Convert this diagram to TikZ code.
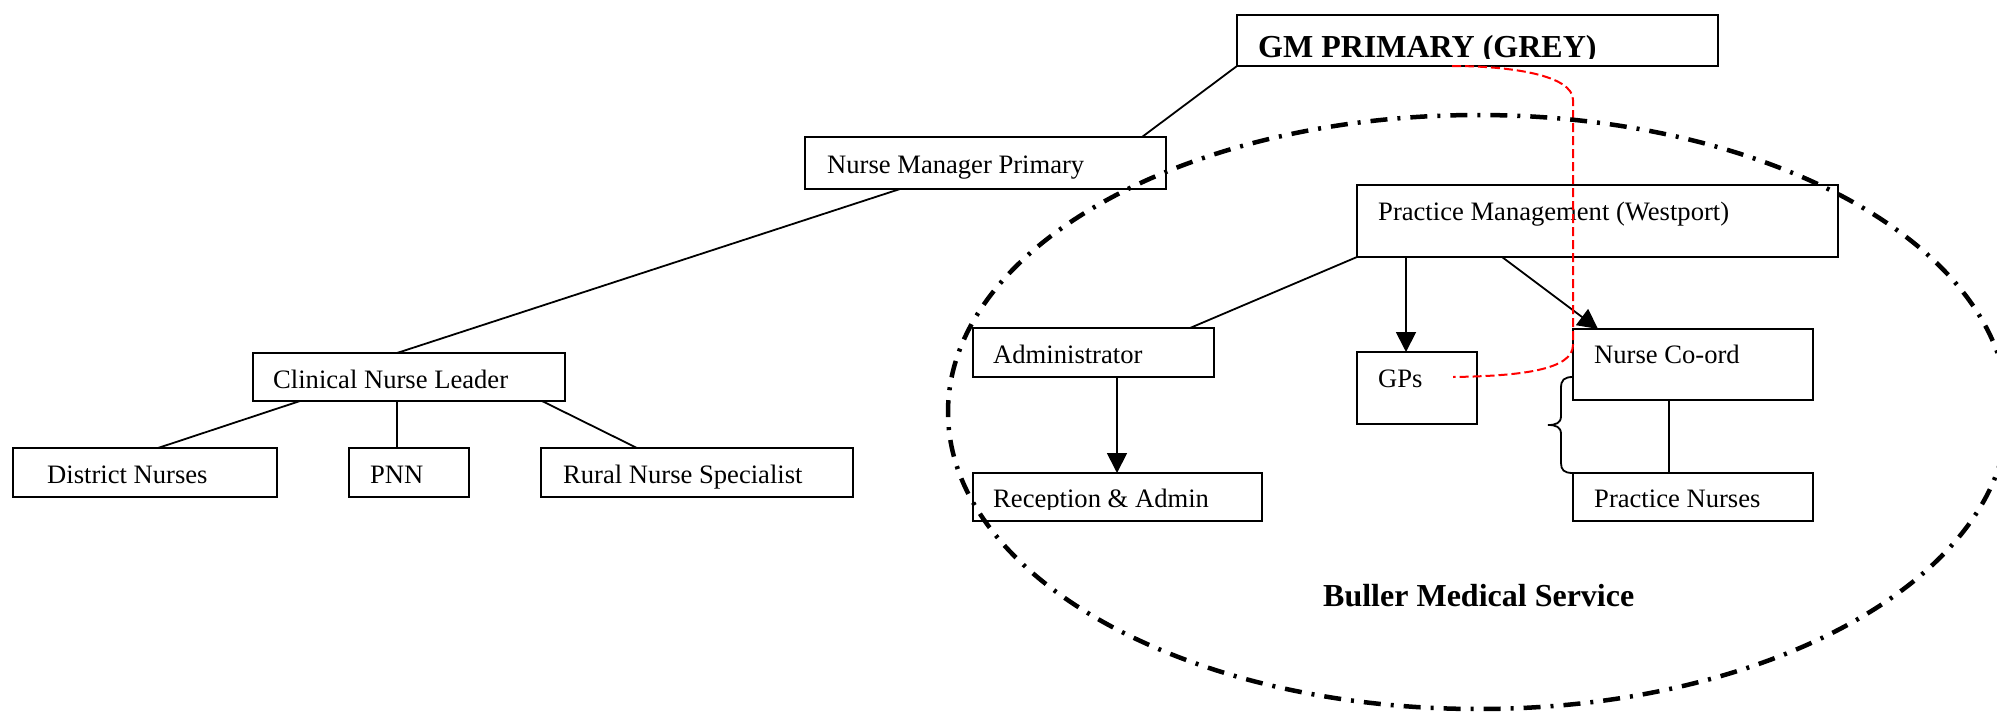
\documentclass[tikz,border=0pt]{standalone}
\usepackage{fontspec}
\setmainfont{Liberation Serif}
\usetikzlibrary{arrows.meta}
\begin{document}
\begin{tikzpicture}[x=1pt,y=-1pt,
  box/.style={draw, line width=2pt, inner sep=0pt, outer sep=0pt, anchor=north west},
  lbl/.style={inner sep=0pt, anchor=base west, font=\fontsize{26.6}{30}\selectfont},
  boldlbl/.style={inner sep=0pt, anchor=base west, font=\fontsize{32}{36}\selectfont\bfseries},
  conn/.style={line width=1.8pt},
  arr/.style={line width=1.8pt, -{Triangle[length=20pt,width=20pt]}},
  group/.style={line width=4.5pt, dash pattern=on 17pt off 10pt on 3pt off 10pt},
  link/.style={red, line width=2pt, dash pattern=on 9pt off 4pt}
]
\clip (0,0) rectangle (1997,712);

% boxes
\node[box, minimum width=481pt, minimum height=51pt] (gm) at (1237,15) {};
\node[box, minimum width=361pt, minimum height=52pt] (nmp) at (805,137) {};
\node[box, minimum width=312pt, minimum height=48pt] (cnl) at (253,353) {};
\node[box, minimum width=264pt, minimum height=49pt] (dn) at (13,448) {};
\node[box, minimum width=120pt, minimum height=49pt] (pnn) at (349,448) {};
\node[box, minimum width=312pt, minimum height=49pt] (rns) at (541,448) {};
\node[box, minimum width=481pt, minimum height=72pt] (pm) at (1357,185) {};
\node[box, minimum width=241pt, minimum height=49pt] (adm) at (973,328) {};
\node[box, minimum width=289pt, minimum height=48pt] (ra) at (973,473) {};
\node[box, minimum width=120pt, minimum height=72pt] (gps) at (1357,352) {};
\node[box, minimum width=240pt, minimum height=71pt] (nc) at (1573,329) {};
\node[box, minimum width=240pt, minimum height=48pt] (pn) at (1573,473) {};

% labels
\begin{scope}
  \clip (1237,15) rectangle (1718,58);
  \node[boldlbl] (gmt) at ([xshift=21pt,yshift=-42pt]gm.north west) {GM PRIMARY (GREY)};
\end{scope}
\node[lbl] (nmpt) at ([xshift=22pt,yshift=-36pt]nmp.north west) {Nurse Manager Primary};
\node[lbl] (cnlt) at ([xshift=20pt,yshift=-35pt]cnl.north west) {Clinical Nurse Leader};
\node[lbl] (dnt) at ([xshift=34pt,yshift=-35pt]dn.north west) {District Nurses};
\node[lbl] (pnnt) at ([xshift=21pt,yshift=-35pt]pnn.north west) {PNN};
\node[lbl] (rnst) at ([xshift=22pt,yshift=-35pt]rns.north west) {Rural Nurse Specialist};
\node[lbl] (pmt) at ([xshift=21pt,yshift=-35pt]pm.north west) {Practice Management (Westport)};
\node[lbl] (admt) at ([xshift=20pt,yshift=-35pt]adm.north west) {Administrator};
\begin{scope}
  \clip (973,473) rectangle (1262,509);
  \node[lbl] (rat) at ([xshift=20pt,yshift=-34pt]ra.north west) {Reception \& Admin};
\end{scope}
\node[lbl] (gpst) at ([xshift=21pt,yshift=-35pt]gps.north west) {GPs};
\node[lbl] (nct) at ([xshift=21pt,yshift=-34pt]nc.north west) {Nurse Co-ord};
\node[lbl] (pnt) at ([xshift=21pt,yshift=-34pt]pn.north west) {Practice Nurses};
\node[boldlbl] (bms) at (1323,606) {Buller Medical Service};

% connectors
\draw[conn] (gm.south west) -- ([xshift=-24pt]nmp.north east);
\draw[conn] ([xshift=95pt]nmp.south west) -- ([xshift=144pt]cnl.north west);
\draw[conn] ([xshift=47pt]cnl.south west) -- ([xshift=145pt]dn.north west);
\draw[conn] ([xshift=144pt]cnl.south west) -- ([xshift=48pt]pnn.north west);
\draw[conn] ([xshift=289pt]cnl.south west) -- ([xshift=96pt]rns.north west);
\draw[conn] (pm.south west) -- ([xshift=217pt]adm.north west);
\draw[arr] ([xshift=49pt]pm.south west) -- ([xshift=49pt]gps.north west);
\draw[arr] ([xshift=145pt]pm.south west) -- ([xshift=25pt]nc.north west);
\draw[arr] ([xshift=144pt]adm.south west) -- ([xshift=144pt]ra.north west);
\draw[conn] ([xshift=96pt]nc.south west) -- ([xshift=96pt]pn.north west);

% brace
\draw[line width=1.8pt] ([yshift=-48pt]nc.north west)
  .. controls (1564,377) and (1561,380) .. (1561,388) -- (1561,416)
  .. controls (1561,423) and (1556,425) .. (1548,425)
  .. controls (1556,425) and (1561,427) .. (1561,434) -- (1561,463)
  .. controls (1561,470) and (1564,473) .. (pn.north west);

% red dashed link
\coordinate (redA) at ([xshift=215pt]gm.south west);
\coordinate (redB) at ([xshift=96pt,yshift=-25pt]gps.north west);
\draw[link] (redA) .. controls (1510,66) and (1573,75) .. (1573,100) -- (1573,345)
  .. controls (1573,370) and (1520,376) .. (redB);

% group ellipse
\draw[group] (1478,412) ellipse [x radius=530, y radius=297];
\end{tikzpicture}
\end{document}
